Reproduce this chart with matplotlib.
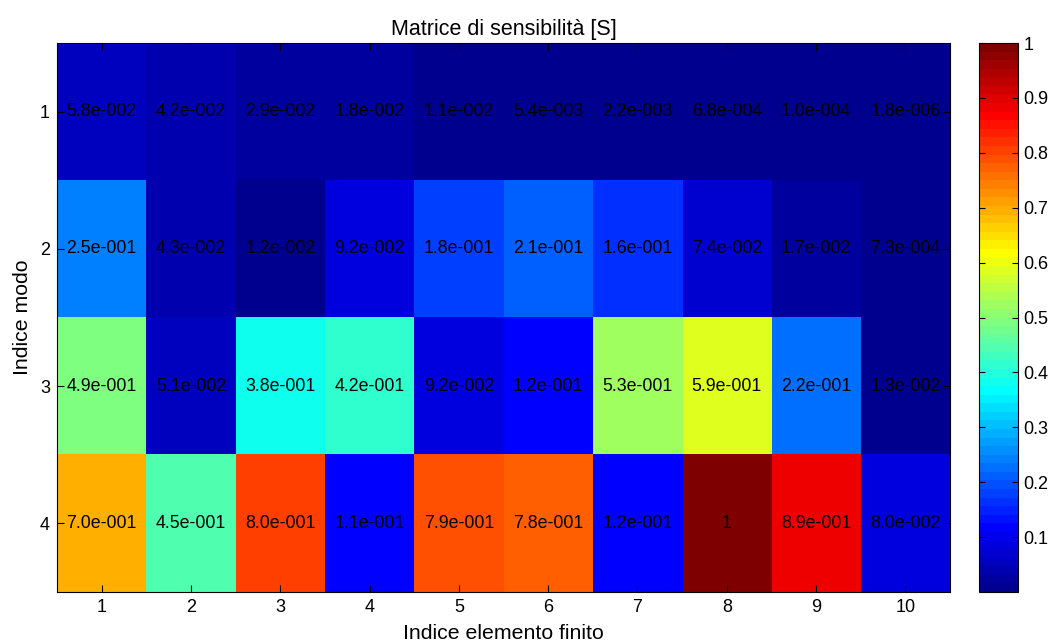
import numpy as np
import matplotlib
matplotlib.use("Agg")
import matplotlib.pyplot as plt
from matplotlib.colors import ListedColormap

plt.rcParams['font.family'] = ['Liberation Sans', 'DejaVu Sans']

elementi = [1, 2, 3, 4, 5, 6, 7, 8, 9, 10]
modi = [1, 2, 3, 4]

modo_1 = [5.8e-2, 4.2e-2, 2.9e-2, 1.8e-2, 1.1e-2, 5.4e-3, 2.2e-3, 6.8e-4, 1.0e-4, 1.8e-6]
modo_2 = [2.5e-1, 4.3e-2, 1.2e-2, 9.2e-2, 1.8e-1, 2.1e-1, 1.6e-1, 7.4e-2, 1.7e-2, 7.3e-4]
modo_3 = [4.9e-1, 5.1e-2, 3.8e-1, 4.2e-1, 9.2e-2, 1.2e-1, 5.3e-1, 5.9e-1, 2.2e-1, 1.3e-2]
modo_4 = [7.0e-1, 4.5e-1, 8.0e-1, 1.1e-1, 7.9e-1, 7.8e-1, 1.2e-1, 1.0, 8.9e-1, 8.0e-2]

cbar_ticks = [0.1, 0.2, 0.3, 0.4, 0.5, 0.6, 0.7, 0.8, 0.9, 1.0]


def jet_matlab(m=64):
    # same construction as MATLAB's jet(m)
    n = int(np.ceil(m / 4))
    u = np.concatenate([np.arange(1, n + 1) / n, np.ones(n - 1), np.arange(n, 0, -1) / n])
    g = int(np.ceil(n / 2)) - (1 if m % 4 == 1 else 0) + np.arange(1, len(u) + 1)
    r = g + n
    b = g - n
    J = np.zeros((m, 3))
    for col, idx in ((0, r), (1, g), (2, b)):
        ok = (idx >= 1) & (idx <= m)
        J[idx[ok] - 1, col] = u[ok]
    return ListedColormap(J)


def fmt_matlab(v):
    if v == 1:
        return "1"
    mant, exp = f"{v:.1e}".split("e")
    sign = "-" if int(exp) < 0 else "+"
    return f"{mant}e{sign}{abs(int(exp)):03d}"


S = np.array([modo_1, modo_2, modo_3, modo_4])

fig = plt.figure(figsize=(10.5, 6.43), dpi=100)
ax = fig.add_axes([0.0543, 0.0793, 0.8505, 0.8538])
cax = fig.add_axes([0.9324, 0.0793, 0.0371, 0.8538])

im = ax.imshow(S, cmap=jet_matlab(64), vmin=S.min(), vmax=S.max(), aspect='auto',
               interpolation='nearest',
               extent=(elementi[0] - 0.5, elementi[-1] + 0.5, modi[-1] + 0.5, modi[0] - 0.5))

for i, m in enumerate(modi):
    for j, e in enumerate(elementi):
        ax.text(e, m, fmt_matlab(S[i, j]), ha='center', va='center', fontsize=12.8, color='black')

ax.set_xticks(elementi)
ax.set_yticks(modi)
ax.tick_params(direction='in', top=True, right=True, length=5, labelsize=13, pad=5)
ax.set_title("Matrice di sensibilità [S]", fontsize=15.5, pad=6)
ax.set_xlabel("Indice elemento finito", fontsize=15.3, labelpad=6)
ax.set_ylabel("Indice modo", fontsize=15.3, labelpad=6)

cb = fig.colorbar(im, cax=cax, ticks=cbar_ticks)
cb.ax.set_yticklabels([f"{t:g}" for t in cbar_ticks])
cb.ax.tick_params(direction='in', left=True, right=True, length=4, labelsize=13, pad=4)
cb.outline.set_linewidth(0.8)

fig.savefig("out.png", dpi=100)
